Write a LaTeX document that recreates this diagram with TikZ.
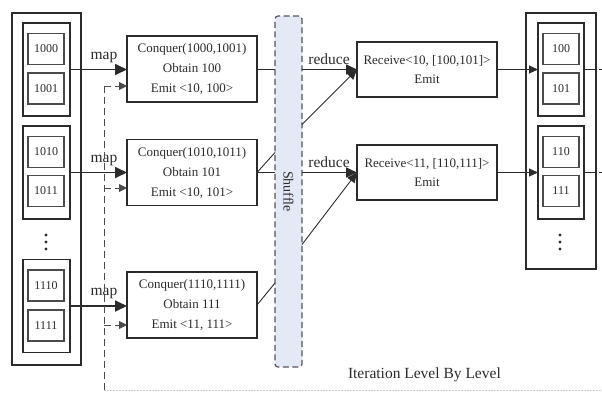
\documentclass[tikz,border=0pt]{standalone}
\usepackage{fontspec}
\setmainfont{Liberation Serif}
\usetikzlibrary{arrows.meta,calc}
\definecolor{ink}{HTML}{2B2B2B}
\definecolor{shuf}{HTML}{E4E9F6}

\begin{document}
\begin{tikzpicture}[x=1pt,y=-1pt,
  every node/.style={inner sep=0pt, outer sep=0pt, text=ink},
  outerbox/.style={draw=ink, line width=1.2pt, rectangle},
  groupbox/.style={draw=ink, line width=1.5pt, rectangle, minimum width=47pt, minimum height=93pt},
  numbox/.style={draw=ink!85, line width=1.9pt, rectangle, minimum width=36pt, minimum height=31pt,
                 font=\fontsize{12}{14}\selectfont},
  conquer/.style={draw=ink, line width=1.3pt, rectangle, minimum width=130pt, minimum height=66pt,
                  align=center, font=\fontsize{13}{20}\selectfont},
  receive/.style={draw=ink, line width=1.3pt, rectangle, minimum width=140pt, minimum height=55pt,
                  align=center, font=\fontsize{13}{19}\selectfont},
  lbl/.style={anchor=base, font=\fontsize{15.5}{16}\selectfont},
  maparrow/.style={draw=ink, line width=1.8pt, -{Triangle[length=12pt,width=11pt]}},
  redarrow/.style={draw=ink, line width=1.6pt, -{Triangle[length=11pt,width=10pt]}},
  thin/.style={draw=ink, line width=0.9pt},
  thinarrow/.style={draw=ink, line width=0.9pt, -{Triangle[length=10pt,width=9pt]}},
  outarrow/.style={draw=ink, line width=1.2pt, -{Triangle[length=9pt,width=8pt]}},
  feedback/.style={draw=ink!85, line width=0.9pt, dash pattern=on 7pt off 4pt},
  fbarrow/.style={feedback, -{Triangle[length=8pt,width=8pt]}},
  dot/.style={fill=ink, circle, minimum size=3.2pt}
]
\useasboundingbox (0,0) rectangle (602,392);

% ---- input blocks (left) ----
\node[outerbox, minimum width=69pt, minimum height=352pt] (inL) at (46.5,189) {};
\node[groupbox] (gL1) at (46.5,69.5) {};
\node[groupbox] (gL2) at (46.5,172.5) {};
\node[groupbox] (gL3) at (46.5,306) {};
\node[numbox] (n1000) at (46,49)    {1000};
\node[numbox] (n1001) at (46,88.5)  {1001};
\node[numbox] (n1010) at (46,152)   {1010};
\node[numbox] (n1011) at (46,191)   {1011};
\node[numbox] (n1110) at (46,285.5) {1110};
\node[numbox] (n1111) at (46,325.5) {1111};
\node[dot] (dL1) at (46,235) {};
\node[dot] (dL2) at (46,242) {};
\node[dot] (dL3) at (46,249) {};

% ---- map tasks ----
\node[conquer] (c1) at (192,69)    {Conquer(1000,1001)\\Obtain 100\\Emit <10, 100>};
\node[conquer] (c2) at (192,172.5) {Conquer(1010,1011)\\Obtain 101\\Emit <10, 101>};
\node[conquer] (c3) at (192,305)   {Conquer(1110,1111)\\Obtain 111\\Emit <11, 111>};

\draw[maparrow] (gL1.east) -- (c1.west |- gL1.east);
\draw[maparrow] (gL2.east) -- (c2.west |- gL2.east);
\draw[maparrow] (gL3.east) -- (c3.west |- gL3.east);
\node[lbl] (map1) at (104,59)  {map};
\node[lbl] (map2) at (104,162) {map};
\node[lbl] (map3) at (104,295) {map};

% ---- feedback of the previous level ----
\coordinate (fbBot) at (104,390);
\coordinate (fb1) at (104,86);
\coordinate (fb2) at (104,188);
\coordinate (fb3) at (104,325);
\draw[gray!40, line width=0.8pt, dash pattern=on 1.5pt off 1.5pt] (fbBot) -- (602,390);
\draw[feedback] (fbBot) -- (fb1);
\draw[fbarrow] (fb1) -- (c1.west |- fb1);
\draw[fbarrow] (fb2) -- (c2.west |- fb2);
\draw[fbarrow] (fb3) -- (c3.west |- fb3);

% ---- shuffle ----
\node[draw=ink!80, line width=1.2pt, dash pattern=on 6pt off 3.5pt, rounded corners=3pt,
      fill=shuf, minimum width=27pt, minimum height=351pt] (shuffle) at (288.5,191.5) {};
\node[rotate=-90, font=\fontsize{14}{14}\selectfont] (shufLbl) at (shuffle.center) {Shuffle};

\draw[thin] (c1.east) -- (shuffle.west |- c1.east);
\draw[thin] (c2.east) -- (shuffle.west |- c2.east);
\draw[thin] (c2.east) -- ($(shuffle.west |- c2.east)+(0,-20)$);
\draw[thin] (c3.east) -- ($(shuffle.west |- c3.east)+(0,-22)$);

% ---- reduce tasks ----
\node[receive] (r1) at (427,69.5)  {Receive<10, [100,101]>\\Emit};
\node[receive] (r2) at (427,172.5) {Receive<11, [110,111]>\\Emit};

\draw[redarrow] (shuffle.east |- r1.west) -- (r1.west);
\draw[redarrow] (shuffle.east |- r2.west) -- (r2.west);
\draw[thinarrow] ($(shuffle.east |- r1.west)+(0,55)$) -- (r1.west);
\draw[thinarrow] ($(shuffle.east |- r2.west)+(0,72)$) -- (r2.west);
\node[lbl] (red1) at (329,64)  {reduce};
\node[lbl] (red2) at (329,167) {reduce};

% ---- output blocks (right) ----
\node[outerbox, minimum width=70pt, minimum height=256pt] (outR) at (561,141) {};
\node[groupbox, minimum width=46pt] (gR1) at (561,69.5) {};
\node[groupbox, minimum width=46pt] (gR2) at (561,172.5) {};
\node[numbox] (n100) at (561,49)   {100};
\node[numbox] (n101) at (561,88.5) {101};
\node[numbox] (n110) at (561,152)  {110};
\node[numbox] (n111) at (561,191)  {111};
\node[dot] (dR1) at (560,235) {};
\node[dot] (dR2) at (560,242) {};
\node[dot] (dR3) at (560,249) {};

\draw[outarrow] (r1.east) -- (gR1.west |- r1.east);
\draw[outarrow] (r2.east) -- (gR2.west |- r2.east);
\draw[thin, line width=1.2pt] (gR1.east |- r1.east) -- (outR.east |- r1.east);
\draw[thin, line width=1.2pt] (gR2.east |- r2.east) -- (outR.east |- r2.east);
\coordinate (cont1) at (602,69.5);
\coordinate (cont2) at (602,172.5);
\draw[thin, line width=1.2pt] ($(outR.east |- r1.east)+(2.5,0)$) -- (cont1);
\draw[thin, line width=1.2pt] ($(outR.east |- r2.east)+(2.5,0)$) -- (cont2);

% ---- caption ----
\node[font=\fontsize{15.5}{16}\selectfont, anchor=base west] (iter) at (348,378) {Iteration Level By Level};
\end{tikzpicture}
\end{document}
